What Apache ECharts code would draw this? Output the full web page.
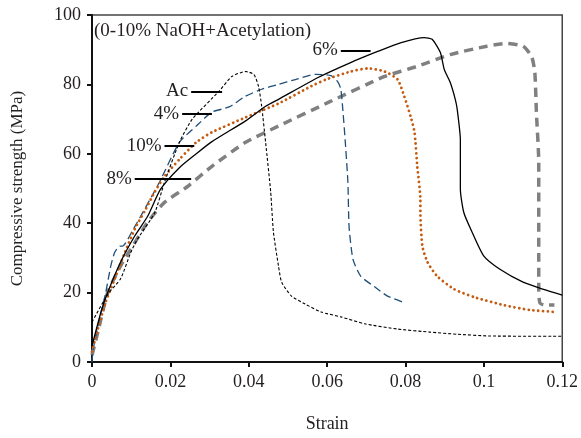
<!DOCTYPE html>
<html lang="en">
<head>
	<meta charset="UTF-8">
	<title>Compressive strength</title>
	<style>
	body, div {
		margin: 0;
		padding: 0;
	}
	#echart {
		width: 581px;
		height: 438px;
	}
	</style>
</head>
<body>
	<div id="echart"></div>

	<script src="https://cdn.jsdelivr.net/npm/echarts@6/dist/echarts.min.js"></script>

	<script>
// stress-strain curves, [strain, MPa]
var acData = [[0,11.5],[0.004,19.5],[0.0073,24],[0.0099,31.6],[0.0116,35.4],[0.016,43],[0.0185,51.8],[0.0223,63.3],[0.0256,70],[0.0324,78],[0.0357,82.3],[0.0392,83.7],[0.0413,82.9],[0.0425,79.4],[0.0433,73.7],[0.0443,63.3],[0.0456,49],[0.0463,37.4],[0.0476,27.6],[0.0484,23],[0.0509,19],[0.0544,16.7],[0.0585,14.4],[0.0635,13],[0.0696,11],[0.078,9.5],[0.0863,8.6],[0.0932,8],[0.1015,7.5],[0.12,7.4]];
var p4Data = [[0,0],[0.0003,3.7],[0.0023,14.4],[0.0035,20],[0.0048,27.7],[0.0058,31.6],[0.0071,33.4],[0.0078,33.4],[0.0104,38],[0.0139,45],[0.0172,51.8],[0.0223,63.3],[0.0266,68],[0.0306,72],[0.035,73.5],[0.039,76.5],[0.0433,78.6],[0.0476,80],[0.0519,81.4],[0.057,82.9],[0.061,82.5],[0.0628,80.6],[0.0635,78.6],[0.064,72.8],[0.0646,64],[0.0653,51.8],[0.0656,39],[0.0666,29.6],[0.0686,24.7],[0.0722,21.6],[0.0754,19],[0.08,17]];
var p10Data = [[0,3],[0.0015,9.5],[0.0035,17.3],[0.0058,24],[0.0084,31.6],[0.0109,38.3],[0.0137,44],[0.016,49],[0.0185,53.5],[0.0223,58.4],[0.0266,63.3],[0.0306,66.2],[0.0392,70.5],[0.0476,74.5],[0.056,79.5],[0.0597,81.4],[0.066,83.7],[0.0704,84.6],[0.0747,83.7],[0.078,81.4],[0.0797,76.5],[0.0813,70.8],[0.0823,66.2],[0.083,56.4],[0.0838,46.9],[0.0838,43],[0.0843,33.4],[0.0856,28.8],[0.0881,24.7],[0.0924,21],[0.0975,18.7],[0.105,16.4],[0.1117,15],[0.1185,14.4]];
var p6Data = [[0,4.6],[0.0023,14.4],[0.004,20],[0.0073,28.8],[0.0109,36.3],[0.0142,42],[0.0175,49.8],[0.0223,56],[0.0266,60],[0.0306,63.5],[0.0392,69.5],[0.0443,73.7],[0.0476,75.7],[0.0577,82],[0.066,86.3],[0.0729,89.5],[0.0787,92],[0.0848,93.5],[0.0868,93],[0.0889,89.2],[0.0899,84.3],[0.0914,80.6],[0.0927,75.7],[0.0932,72.8],[0.094,64],[0.094,49.8],[0.0949,43],[0.097,37.4],[0.1,30.5],[0.104,26.8],[0.11,23],[0.115,21],[0.12,19.3]];
var p8Data = [[0,2],[0.0015,8.6],[0.004,20],[0.0073,27.7],[0.0099,32.5],[0.0142,40.3],[0.0185,46],[0.0243,50.5],[0.0306,56.4],[0.0392,63.3],[0.0476,68],[0.0603,74.8],[0.0747,82.3],[0.083,85.2],[0.0914,88.6],[0.1008,91],[0.1058,91.8],[0.11,91],[0.1122,88],[0.113,83.5],[0.1134,72],[0.114,57.6],[0.114,21],[0.1143,17],[0.1155,16.4],[0.118,16.4]];

// curve labels with their leader lines
var annoNames = ['Ac', '4%', '10%', '8%', '6%'];
var annoY = [78, 71.4, 62.2, 52.7, 89.8];
var annoX0 = [0.0253, 0.0230, 0.0185, 0.0109, 0.0635];
var annoX1 = [0.0332, 0.0306, 0.0261, 0.0253, 0.0711];

var xTicks = ['0', '0.02', '0.04', '0.06', '0.08', '0.1', '0.12'];

var serif = 'Liberation Serif';
var ink = '#231f20';

var myEchart = echarts.init(document.getElementById('echart'));

var leaders = annoNames.map(function (n, i) {
	return [
		{ name: n, coord: [annoX0[i], annoY[i]] },
		{ coord: [annoX1[i], annoY[i]] }
	];
});

function curve(name, data, style) {
	return {
		name: name,
		type: 'line',
		data: data,
		symbol: 'none',
		smooth: 0.2,
		silent: true,
		lineStyle: style
	};
}

var option = {
	animation: false,
	title: {
		text: '(0-10% NaOH+Acetylation)',
		left: 89,
		top: 17,
		textStyle: {
			fontFamily: serif,
			fontWeight: 'normal',
			fontSize: 19,
			color: ink
		}
	},
	grid: {
		show: true,
		left: 92,
		right: 16,
		top: 15,
		bottom: 75,
		borderColor: '#444',
		borderWidth: 1.5
	},
	xAxis: {
		type: 'value',
		min: 0,
		max: 0.12,
		interval: 0.02,
		name: 'Strain',
		nameLocation: 'middle',
		nameGap: 53,
		nameTextStyle: { fontFamily: serif, fontSize: 18, color: ink },
		axisLine: { lineStyle: { color: '#111', width: 2 } },
		axisTick: { length: 5, lineStyle: { color: '#111', width: 2 } },
		axisLabel: {
			margin: 11,
			fontFamily: serif,
			fontSize: 18,
			color: ink,
			formatter: function (v) {
				return xTicks[Math.round(v / 0.02)];
			}
		},
		splitLine: { show: false }
	},
	yAxis: {
		type: 'value',
		min: 0,
		max: 100,
		interval: 20,
		name: 'Compressive strength (MPa)',
		nameLocation: 'middle',
		nameGap: 66,
		nameTextStyle: { fontFamily: serif, fontSize: 17, color: ink },
		axisLine: { show: true, lineStyle: { color: '#111', width: 2 } },
		axisTick: { show: true, length: 5, lineStyle: { color: '#111', width: 2 } },
		axisLabel: { margin: 11, fontFamily: serif, fontSize: 18, color: ink },
		splitLine: { show: false }
	},
	series: [
		curve('8%', p8Data, { color: '#808080', width: 3.5, type: [9, 6] }),
		curve('4%', p4Data, { color: '#1f4e79', width: 1.3, type: [8, 4] }),
		curve('10%', p10Data, { color: '#c55a11', width: 2.8, type: [0.01, 4.8], cap: 'round' }),
		curve('6%', p6Data, { color: '#000', width: 1.3, type: 'solid' }),
		curve('Ac', acData, { color: '#000', width: 1.1, type: [3, 2] }),
		{
			type: 'line',
			data: [],
			silent: true,
			markLine: {
				silent: true,
				symbol: 'none',
				animation: false,
				lineStyle: { color: '#000', width: 2, type: 'solid' },
				label: {
					show: true,
					position: 'start',
					distance: 3,
					formatter: '{b}',
					fontFamily: serif,
					fontSize: 19,
					color: ink
				},
				data: leaders
			}
		}
	]
};

myEchart.setOption(option);
	</script>
</body>
</html>
